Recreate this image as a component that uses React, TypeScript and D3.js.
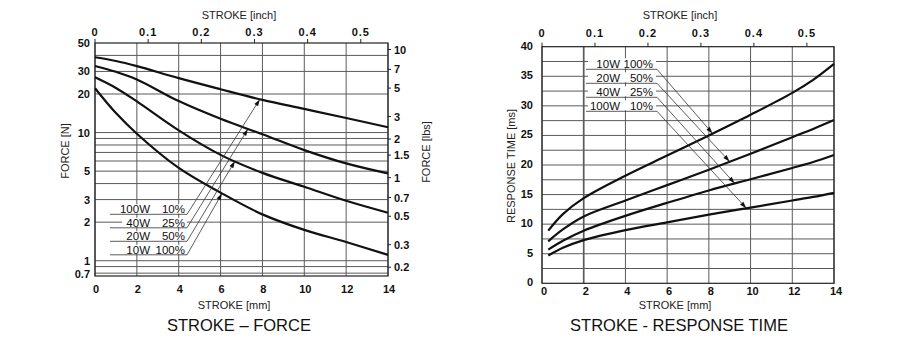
import React from 'react';
import * as d3 from 'd3';

// ---- data ----
const strokeForce = [0, 1, 2, 4, 6, 8, 10, 12, 14]; // mm
const force100W10 = [38.7, 36.2, 33.0, 26.6, 21.8, 18.0, 15.3, 13.0, 11.0]; // N
const force40W25 = [33.1, 29.8, 26.0, 17.6, 12.8, 9.7, 7.3, 5.75, 4.8];
const force20W50 = [27.0, 22.3, 17.5, 10.4, 6.7, 4.85, 3.78, 2.94, 2.37];
const force10W100 = [22.2, 14.2, 9.8, 5.3, 3.4, 2.3, 1.74, 1.40, 1.11];

const strokeRT = [0.3, 1, 2, 4, 6, 8, 10, 12, 13, 14]; // mm
const rt10W100 = [8.9, 11.7, 14.4, 18.2, 21.6, 25.0, 28.5, 32.2, 34.4, 37.1]; // ms
const rt20W50 = [7.1, 9.1, 11.3, 14.0, 16.6, 19.2, 21.9, 24.7, 26.1, 27.6];
const rt40W25 = [5.7, 7.2, 8.9, 11.4, 13.6, 15.7, 17.6, 19.5, 20.5, 21.7];
const rt100W10 = [4.7, 6.0, 7.3, 9.0, 10.3, 11.6, 12.8, 14.0, 14.6, 15.3];

const mmTicks = [0, 2, 4, 6, 8, 10, 12, 14];
const inchTicks = [0, 0.1, 0.2, 0.3, 0.4, 0.5];
const forceTicks = [1, 2, 3, 5, 10, 20, 30, 50];
const forceGrid = [0.8, 0.9, 1, 2, 3, 4, 5, 6, 7, 8, 9, 10, 20, 30, 40];
const lbsTicks = [10, 7, 5, 3, 2, 1.5, 1, 0.7, 0.5, 0.3, 0.2];
const rtTicks = [0, 5, 10, 15, 20, 25, 30, 35, 40];
const rtGrid = [2.5, 5, 7.5, 10, 12.5, 15, 17.5, 20, 22.5, 25, 27.5, 30, 32.5, 35, 37.5];

const forceLegend = [
  { power: '100W', duty: '10%', values: force100W10, tip: 7.88 },
  { power: '40W', duty: '25%', values: force40W25, tip: 7.31 },
  { power: '20W', duty: '50%', values: force20W50, tip: 6.69 },
  { power: '10W', duty: '100%', values: force10W100, tip: 6.07 },
];
const rtLegend = [
  { power: '10W', duty: '100%', values: rt10W100, tip: 8.18 },
  { power: '20W', duty: '50%', values: rt20W50, tip: 9.0 },
  { power: '40W', duty: '25%', values: rt40W25, tip: 9.24 },
  { power: '100W', duty: '10%', values: rt100W10, tip: 9.8 },
];

const LBF = 4.448;
const FORCE_MIN = 0.76;

const FONT = "'Liberation Sans Narrow', 'Liberation Sans', Arial, sans-serif";
const GRID = '#5a5a5a';
const INK = '#111';

function valueAt(xs: number[], ys: number[], x: number, log: boolean) {
  let i = 0;
  while (i < xs.length - 2 && x > xs[i + 1]) i++;
  const t = (x - xs[i]) / (xs[i + 1] - xs[i]);
  if (log) return Math.exp(Math.log(ys[i]) + t * (Math.log(ys[i + 1]) - Math.log(ys[i])));
  return ys[i] + t * (ys[i + 1] - ys[i]);
}

function Arrow({ x1, y1, x2, y2 }: { x1: number; y1: number; x2: number; y2: number }) {
  const a = Math.atan2(y2 - y1, x2 - x1);
  const len = 7, half = 2.2;
  const bx = x2 - len * Math.cos(a), by = y2 - len * Math.sin(a);
  const px = -Math.sin(a) * half, py = Math.cos(a) * half;
  return (
    <g>
      <line x1={x1} y1={y1} x2={bx} y2={by} stroke="#333" strokeWidth={0.8} />
      <path d={`M${x2},${y2}L${bx + px},${by + py}L${bx - px},${by - py}Z`} fill={INK} />
    </g>
  );
}

function ForceChart() {
  const x = d3.scaleLinear().domain([0, 14]).range([95, 388]);
  const xIn = d3.scaleLinear().domain([0, 14 / 25.4]).range([95, 388]);
  const y = d3.scaleLog().domain([FORCE_MIN, 50]).range([276, 43]);
  const [top, bottom] = [y(50), y(FORCE_MIN)];
  const line = d3
    .line<number>()
    .x((_, i) => x(strokeForce[i]))
    .y((d) => y(d))
    .curve(d3.curveCatmullRom.alpha(0.5));

  return (
    <g fontFamily={FONT}>
      {mmTicks.map((v) => (
        <line key={'v' + v} x1={x(v)} x2={x(v)} y1={top} y2={bottom} stroke={GRID} strokeWidth={1} />
      ))}
      {forceGrid.map((v) => (
        <line key={'h' + v} x1={x(0)} x2={x(14)} y1={y(v)} y2={y(v)} stroke={GRID} strokeWidth={1} />
      ))}
      <rect x={x(0)} y={top} width={x(14) - x(0)} height={bottom - top} fill="none" stroke="#222" strokeWidth={1.2} />

      {forceLegend.map((s) => (
        <path key={s.power} d={line(s.values) || ''} fill="none" stroke={INK} strokeWidth={2.2} />
      ))}

      {/* legend with leader arrows */}
      {forceLegend.map((s, i) => {
        const ry = 214.3 + i * 13.5;
        const tx = x(s.tip);
        const ty = y(valueAt(strokeForce, s.values, s.tip, true));
        return (
          <g key={'lg' + s.power}>
            <rect x={122} y={ry - 10} width={65} height={9.5} fill="#fff" />
            <line x1={110} x2={187} y1={ry} y2={ry} stroke="#333" strokeWidth={0.8} />
            <text x={150} y={ry - 1} textAnchor="end" fontSize={11.5} fill={INK}>{s.power}</text>
            <text x={185} y={ry - 1} textAnchor="end" fontSize={11.5} fill={INK}>{s.duty}</text>
            <Arrow x1={187} y1={ry} x2={tx} y2={ty} />
          </g>
        );
      })}

      {/* top inch axis */}
      {inchTicks.map((v) => (
        <g key={'in' + v}>
          <line x1={xIn(v)} x2={xIn(v)} y1={top} y2={top - 4} stroke="#222" />
          <text x={xIn(v)} y={36} textAnchor="middle" fontSize={11} fontWeight="bold" letterSpacing={1} fill={INK}>
            {v === 0 ? '0' : v.toFixed(1)}
          </text>
        </g>
      ))}
      <text x={239} y={19} textAnchor="middle" fontSize={11} fill="#222">STROKE [inch]</text>

      {/* left N axis */}
      {forceTicks.map((v) => (
        <text key={'n' + v} x={90} y={y(v) + 4} textAnchor="end" fontSize={11} fontWeight="bold" fill={INK}>
          {v}
        </text>
      ))}
      <text x={90} y={bottom + 2} textAnchor="end" fontSize={11} fontWeight="bold" fill={INK}>0.7</text>
      <text transform={`translate(69,151) rotate(-90)`} textAnchor="middle" fontSize={11} fill="#222">FORCE [N]</text>

      {/* right lbs axis */}
      {lbsTicks.map((v) => (
        <g key={'lb' + v}>
          <line x1={x(14)} x2={x(14) + 3} y1={y(v * LBF)} y2={y(v * LBF)} stroke="#222" />
          <text x={394} y={y(v * LBF) + 4} fontSize={11} fontWeight="bold" fill={INK}>{v}</text>
        </g>
      ))}
      <text transform={`translate(430,152) rotate(-90)`} textAnchor="middle" fontSize={11} fill="#222">FORCE [lbs]</text>

      {/* bottom mm axis */}
      {mmTicks.map((v) => (
        <text key={'mm' + v} x={x(v) + 1} y={293} textAnchor="middle" fontSize={11} fontWeight="bold" fill={INK}>
          {v}
        </text>
      ))}
      <text x={234} y={309} textAnchor="middle" fontSize={11} fill="#222">STROKE [mm]</text>
      <text x={239} y={331} textAnchor="middle" fontSize={16.5} fontFamily="'Liberation Sans', Arial, sans-serif" fill={INK}>
        STROKE – FORCE
      </text>
    </g>
  );
}

function ResponseChart() {
  const x = d3.scaleLinear().domain([0, 14]).range([542, 834]);
  const xIn = d3.scaleLinear().domain([0, 14 / 25.4]).range([542, 834]);
  const y = d3.scaleLinear().domain([0, 40]).range([283.3, 46.7]);
  const [top, bottom] = [y(40), y(0)];
  const line = d3
    .line<number>()
    .x((_, i) => x(strokeRT[i]))
    .y((d) => y(d))
    .curve(d3.curveCatmullRom.alpha(0.5));

  return (
    <g fontFamily={FONT}>
      {mmTicks.map((v) => (
        <line key={'v' + v} x1={x(v)} x2={x(v)} y1={top} y2={bottom} stroke={GRID} strokeWidth={v === 2 ? 1.7 : 1} />
      ))}
      {rtGrid.map((v) => (
        <line key={'h' + v} x1={x(0)} x2={x(14)} y1={y(v)} y2={y(v)} stroke={GRID} strokeWidth={1} />
      ))}
      <rect x={x(0)} y={top} width={x(14) - x(0)} height={bottom - top} fill="none" stroke="#222" strokeWidth={1.2} />

      {rtLegend.map((s) => (
        <path key={s.power} d={line(s.values) || ''} fill="none" stroke={INK} strokeWidth={2.2} />
      ))}

      {rtLegend.map((s, i) => {
        const ry = 69.3 + i * 14;
        const tx = x(s.tip);
        const ty = y(valueAt(strokeRT, s.values, s.tip, false));
        return (
          <g key={'lg' + s.power}>
            <rect x={588} y={ry - 11} width={68} height={10} fill="#fff" />
            <line x1={586} x2={657} y1={ry} y2={ry} stroke="#333" strokeWidth={0.8} />
            <text x={620} y={ry - 1.5} textAnchor="end" fontSize={11.5} fill={INK}>{s.power}</text>
            <text x={653} y={ry - 1.5} textAnchor="end" fontSize={11.5} fill={INK}>{s.duty}</text>
            <Arrow x1={657} y1={ry} x2={tx} y2={ty} />
          </g>
        );
      })}

      {inchTicks.map((v) => (
        <g key={'in' + v}>
          <line x1={xIn(v)} x2={xIn(v)} y1={top} y2={top - 4} stroke="#222" />
          <text x={xIn(v)} y={37} textAnchor="middle" fontSize={11} fontWeight="bold" letterSpacing={1} fill={INK}>
            {v === 0 ? '0' : v.toFixed(1)}
          </text>
        </g>
      ))}
      <text x={680} y={19} textAnchor="middle" fontSize={11} fill="#222">STROKE [inch]</text>

      {rtTicks.map((v) => (
        <text key={'t' + v} x={533} y={y(v) + 3} textAnchor="end" fontSize={11} fontWeight="bold" fill={INK}>
          {v}
        </text>
      ))}
      <text transform={`translate(515,166) rotate(-90)`} textAnchor="middle" fontSize={11} fill="#222">
        RESPONSE TIME [ms]
      </text>

      {mmTicks.map((v) => (
        <text key={'mm' + v} x={x(v) + 2} y={295} textAnchor="middle" fontSize={11} fontWeight="bold" fill={INK}>
          {v}
        </text>
      ))}
      <text x={675} y={309} textAnchor="middle" fontSize={11} fill="#222">STROKE [mm]</text>
      <text x={679} y={331} textAnchor="middle" fontSize={16.5} fontFamily="'Liberation Sans', Arial, sans-serif" fill={INK}>
        STROKE - RESPONSE TIME
      </text>
    </g>
  );
}

export default function App() {
  return (
    <svg
      width={900}
      height={352}
      viewBox="0 0 900 352"
      style={{ position: 'absolute', left: 0, top: 0, background: '#fff' }}
    >
      <rect width={900} height={352} fill="#fff" />
      <ForceChart />
      <ResponseChart />
    </svg>
  );
}
